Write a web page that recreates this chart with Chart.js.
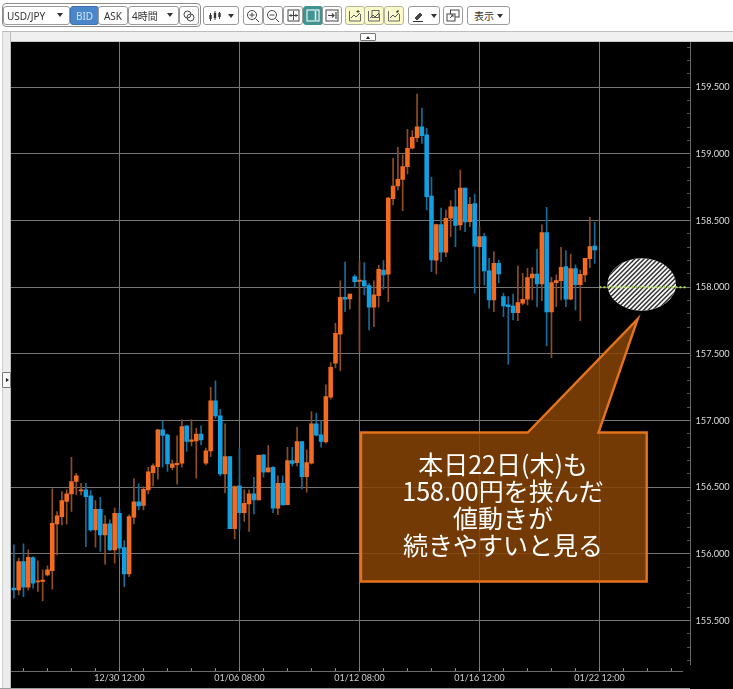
<!DOCTYPE html>
<html lang="ja"><head><meta charset="utf-8">
<script src="https://cdn.jsdelivr.net/npm/chart.js@4"></script>
<style>
html,body{margin:0;padding:0;background:#fff;overflow:hidden;width:733px;height:689px;font-family:"Noto Sans","Noto Sans CJK JP",sans-serif}
#stage{position:absolute;left:0;top:0;width:733px;height:689px}
.a{position:absolute;box-sizing:border-box}
.b{position:absolute;box-sizing:border-box;top:6px;height:19px;background:#fff;border:1px solid #9a9a9a;border-radius:3px;font-size:10px;color:#333;display:flex;align-items:center;justify-content:center;line-height:1}
.b svg{display:block}
.tri{width:0;height:0;display:inline-block;border-left:3px solid transparent;border-right:3px solid transparent;border-top:4px solid #333}
canvas{position:absolute;left:0;top:0}
</style></head><body><div id="stage">
<div class="a" style="left:11px;top:42px;width:722px;height:647px;background:#000"></div>
<div class="a" style="left:2px;top:31px;width:731px;height:11px;background:#f0f0f0;border-top:1px solid #bdbdbd;border-bottom:1px solid #c8c8c8"></div>
<div class="a" style="left:2px;top:32px;width:9px;height:657px;background:#ececec;border-left:1px solid #d0d0d0;border-right:1px solid #bbb"></div>
<div class="a" style="left:360px;top:33px;width:16px;height:8px;background:#fff;border:1px solid #777;border-radius:1px"><div style="position:absolute;left:5px;top:1.5px;width:0;height:0;border-left:2.5px solid transparent;border-right:2.5px solid transparent;border-bottom:3px solid #222"></div></div>
<div class="a" style="left:2px;top:372px;width:9px;height:16px;background:#f6f6f6;border:1px solid #777;border-radius:1px"><div style="position:absolute;left:2.5px;top:4.5px;width:0;height:0;border-top:2.5px solid transparent;border-bottom:2.5px solid transparent;border-left:3px solid #222"></div></div>
<canvas id="chart" width="733" height="689"></canvas>
<div class="a" style="left:2px;top:3px;width:199px;height:24px;border:1px solid #8c8c8c;border-radius:4px"></div>
<div id="toolbar"></div>
</div>
<script>
// Candle values (USD/JPY, 4-hour bars)
const opens=[155.743,155.73,155.943,155.75,155.973,155.79,155.793,155.843,155.875,156.225,156.28,156.393,156.45,156.543,156.473,156.48,156.435,156.18,156.335,156.143,156.225,156.03,156.305,156.048,155.85,156.275,156.39,156.363,156.48,156.61,156.655,156.93,156.893,156.648,156.67,156.68,156.96,156.843,156.848,156.898,156.68,156.773,157.148,157.035,156.6,156.73,156.19,156.51,156.31,156.375,156.45,156.405,156.743,156.615,156.65,156.343,156.53,156.37,156.7,156.685,156.843,156.58,156.68,156.975,156.893,156.84,157.175,157.43,157.648,157.925,157.913,158.08,158.045,158.05,158.013,157.85,157.938,158.13,158.098,158.665,158.76,158.81,158.905,159.043,159.123,159.203,159.143,158.685,158.203,158.47,158.263,158.518,158.603,158.468,158.745,158.493,158.628,158.305,158.38,158.123,157.905,158.18,157.93,157.868,157.86,157.81,157.88,157.91,158.07,158.1,158.025,158.41,157.815,158.035,158.05,158.155,157.91,158.14,158.02,158.093,158.215,158.31];
const highs=[156.068,155.968,156.075,156.03,155.98,155.948,155.88,155.91,156.488,156.318,156.468,156.48,156.725,156.605,156.53,156.53,156.475,156.4,156.425,156.288,156.255,156.343,156.335,156.1,156.293,156.565,156.525,156.505,156.65,156.675,156.935,156.998,156.9,156.705,156.885,157.005,156.96,157.005,156.943,156.96,156.793,157.25,157.298,157.085,156.975,156.73,156.51,156.793,156.48,156.48,156.575,156.743,156.743,156.815,156.655,156.585,156.585,156.8,156.8,156.95,156.843,156.78,157.068,157.055,156.998,157.268,157.435,157.73,158.048,158.19,157.95,158.093,158.2,158.185,158.03,158.048,158.165,158.2,158.675,158.968,159.05,158.993,159.185,159.175,159.45,159.345,159.193,158.825,158.475,158.595,158.58,158.65,158.73,158.88,158.745,158.675,158.7,158.455,158.405,158.218,158.268,158.205,157.955,157.93,157.95,158.16,158.105,158.143,158.15,158.285,158.468,158.6,158.075,158.093,158.3,158.275,158.25,158.168,158.13,158.218,158.525,158.488];
const lows=[155.668,155.693,155.68,155.73,155.743,155.718,155.648,155.835,155.735,155.993,156.218,156.225,156.318,156.443,156.443,156.055,156.168,156.05,156.018,155.923,156.025,155.93,155.98,155.755,155.83,156.225,156.33,156.33,156.45,156.51,156.56,156.65,156.618,156.63,156.523,156.65,156.768,156.81,156.568,156.818,156.668,156.73,157.018,156.585,156.46,156.19,156.113,156.18,156.243,156.168,156.3,156.405,156.575,156.613,156.31,156.295,156.368,156.368,156.66,156.66,156.488,156.463,156.673,156.885,156.8,156.83,157.16,157.395,157.375,157.818,157.835,158,157.518,157.943,157.68,157.705,157.85,157.985,157.893,158.618,158.73,158.575,158.85,159.038,159.093,159.08,158.58,158.118,158.1,158.193,158.23,158.38,158.305,158.43,158.418,158.455,157.955,158.018,158.018,157.843,157.818,158.035,157.78,157.423,157.755,157.75,157.868,157.868,157.905,157.855,157.9,157.56,157.473,157.855,157.905,157.855,157.905,157.83,157.75,158.043,158.148,158.18];
const closes=[155.73,155.943,155.75,155.975,155.78,155.798,155.803,155.88,156.23,156.285,156.4,156.45,156.543,156.585,156.48,156.43,156.18,156.335,156.143,156.223,156.03,156.305,156.043,155.85,156.28,156.39,156.36,156.485,156.615,156.66,156.93,156.888,156.675,156.675,156.68,156.955,156.843,156.855,156.898,156.855,156.773,157.148,157.035,156.6,156.73,156.19,156.505,156.31,156.38,156.45,156.405,156.74,156.613,156.645,156.343,156.53,156.368,156.7,156.678,156.843,156.58,156.685,156.975,156.89,156.843,157.18,157.4,157.655,157.925,157.91,157.95,158.043,158.055,158.01,157.85,157.943,158.135,158.093,158.67,158.76,158.81,158.905,159.043,159.125,159.203,159.138,158.68,158.205,158.47,158.263,158.518,158.603,158.465,158.745,158.49,158.623,158.308,158.38,158.123,157.905,158.18,158.1,157.86,157.855,157.81,157.885,157.91,158.073,158.1,158.025,158.41,157.815,158.035,158.05,158.15,157.91,158.14,158.02,158.098,158.218,158.305,158.28];
const tickIndexes=[22,47,72,97,122];
const tickLabels=['12/30 12:00','01/06 08:00','01/12 08:00','01/16 12:00','01/22 12:00'];
const guideLevel=158;
const calloutLines=['本日22日(木)も','158.00円を挟んだ','値動きが','続きやすいと見る'];

const UP='#f26b21',DOWN='#12a0e2',UP_WICK='#8f4d22',DOWN_WICK='#176c98',GRID='#767676';
const idx=closes.map((_,i)=>i);
const isUp=i=>closes[i]>=opens[i];
const FIRST=-0.6,LAST=140.13;

const annotations={
 id:'annotations',
 beforeDatasetsDraw(c){
  const g=c.ctx;g.save();
  g.beginPath();g.ellipse(641.7,284.5,34.3,26.2,0,0,Math.PI*2);g.fillStyle='#fff';g.fill();g.clip();
  g.strokeStyle='#333';g.lineWidth=1.5;
  for(let x=560;x<740;x+=4.6){g.beginPath();g.moveTo(x,320);g.lineTo(x+70,250);g.stroke();}
  g.restore();
 },
 afterDatasetsDraw(c){
  const g=c.ctx;g.save();
  g.strokeStyle='#6a6a6a';g.lineWidth=1;
  g.beginPath();g.moveTo(11,671.5);g.lineTo(683,671.5);g.moveTo(690.5,42);g.lineTo(690.5,665);g.stroke();
  g.strokeStyle='#9a9a9a';g.beginPath();g.moveTo(0,688.5);g.lineTo(690,688.5);g.stroke();
  g.beginPath();g.moveTo(361,432.5);g.lineTo(527.7,432.5);g.lineTo(637.7,319);g.lineTo(598.5,432.5);g.lineTo(646.7,432.5);g.lineTo(646.7,581.5);g.lineTo(361,581.5);g.closePath();
  g.fillStyle='rgba(136,68,7,0.85)';g.fill();
  g.strokeStyle='#e4731c';g.lineWidth=2.4;g.lineJoin='miter';g.stroke();
  g.fillStyle='#fff';g.font='25px "Noto Sans CJK JP"';g.textAlign='center';g.textBaseline='middle';
  calloutLines.forEach((t,i)=>g.fillText(t,503,464.5+i*27));
  g.restore();
 }
};

new Chart(document.getElementById('chart'),{
 type:'bar',
 data:{datasets:[
  {label:'wick',data:idx.map(i=>({x:i,y:[lows[i],highs[i]]})),barThickness:1,
   backgroundColor:idx.map(i=>isUp(i)?UP_WICK:DOWN_WICK),order:3},
  {label:'body',data:idx.map(i=>({x:i,y:[opens[i],closes[i]]})),barThickness:3.9,
   backgroundColor:idx.map(i=>isUp(i)?UP:DOWN),order:2},
  {type:'line',label:'guide',data:[{x:tickIndexes[4],y:guideLevel},{x:LAST,y:guideLevel}],
   borderColor:'#b0dc50',borderWidth:2,borderDash:[2,2],pointRadius:0,order:1}
 ]},
 options:{
  responsive:false,animation:false,grouped:false,
  layout:{padding:{left:11,top:42,right:0,bottom:0}},
  plugins:{legend:{display:false},tooltip:{enabled:false}},
  scales:{
   x:{type:'linear',offset:false,min:FIRST,max:LAST,
    afterBuildTicks(s){const t=[];for(let i=2;i<=137;i+=5)t.push({value:i});s.ticks=t;},
    afterFit(s){s.height=21.5;s.paddingLeft=0;s.paddingRight=0;},
    border:{display:false},
    grid:{offset:false,color:c=>tickIndexes.includes(c.tick&&c.tick.value)?GRID:'rgba(0,0,0,0)',tickColor:'#8a8a8a',tickLength:4,drawTicks:true},
    ticks:{autoSkip:false,maxRotation:0,padding:1,color:'#cfcfcf',font:{family:'Lato',size:9},
     callback:v=>{const k=tickIndexes.indexOf(v);return k<0?'':tickLabels[k];}}},
   y:{type:'linear',position:'right',min:155.148,max:159.84,
    afterBuildTicks(s){const t=[];for(let k=1552;k<=1598;k++)t.push({value:k/10});s.ticks=t;},
    afterFit(s){s.width=46.5;s.paddingTop=0;s.paddingBottom=0;},
    border:{display:false},
    grid:{color:c=>c.tick&&Math.round(c.tick.value*10)%5===0?GRID:'rgba(0,0,0,0)',tickColor:c=>c.tick&&Math.round(c.tick.value*10)%5===0?GRID:'#555',tickLength:4},
    ticks:{autoSkip:false,padding:5,color:'#dcdcdc',font:{family:'Lato',size:9.2},
     callback:v=>Math.round(v*10)%5===0?v.toFixed(3):''}}
  }
 },
 plugins:[annotations]
});

const s=(w,h,d)=>`<svg width="${w}" height="${h}" viewBox="0 0 ${w} ${h}" fill="none" stroke="#444" stroke-width="1">${d}</svg>`;
const tri=`<span class="tri"></span>`;
const mag=m=>s(14,14,`<circle cx="6" cy="6" r="4.5"/><path d="M9.5 9.5L13 13M3.5 6h5${m}"/>`);
const chartIco=x=>s(14,13,`<path d="M1.5 2v10h11V5" stroke="#666"/><path d="M3 9l3-3 2 2 4-4" stroke="#555"/>${x}`);
const ico={
 overlay:s(12,12,`<circle cx="4.5" cy="4.5" r="3.5"/><circle cx="7.5" cy="7.5" r="3.5"/>`),
 candles:`<span style="display:flex;align-items:center;gap:6px">`+s(14,12,`<path d="M2.5 3v8M7 1v9M11.5 2v7" stroke="#333"/><path d="M2.5 5v4M7 3v5M11.5 3v4" stroke="#333" stroke-width="2.4"/>`)+tri+`</span>`,
 fit:s(13,13,`<rect x="1" y="1" width="11" height="11"/><path d="M6.5 2v9M2 6.5h9M3 6.5l1.5-1.5M3 6.5l1.5 1.5M10 6.5L8.5 5M10 6.5L8.5 8"/>`),
 panel:s(14,13,`<rect x="1" y="1" width="12" height="11" stroke="#e8f4f4" stroke-width="1.2"/><path d="M9.5 2v9" stroke="#e8f4f4" stroke-width="1.6"/>`),
 end:s(14,13,`<rect x="1" y="1" width="12" height="11"/><path d="M3 6.5h6M7 4.5l2 2-2 2M11 3v7" stroke-width="1.2"/>`),
 pen:`<span style="display:flex;align-items:center;gap:6px">`+s(13,12,`<path d="M3 8l5-5 2 2-5 5z" fill="#444"/><path d="M1 11.5h10" stroke="#333"/>`)+tri+`</span>`,
 win:s(14,13,`<rect x="4.5" y="1" width="8.5" height="7"/><rect x="1" y="5" width="8" height="7" fill="#fff"/><path d="M4 9l3-3M5 6h2v2"/>`)
};
const buttons=[
 [3,67,`<span style="position:absolute;left:3px">USD/JPY</span><span style="position:absolute;right:6px;top:6px;display:flex">${tri}</span>`],
 [70,29,`BID`,'background:#4a86c9;color:#cfe2f6;border-color:#3f74b0'],
 [98,30,`ASK`],
 [128,51,`<span style="position:absolute;left:3px">4時間</span><span style="position:absolute;right:5px;top:6px;display:flex">${tri}</span>`],
 [179,20,ico.overlay],
 [203,36,ico.candles],
 [243,20,mag('M6 3.5v5')],[263,20,mag('')],[283,20,ico.fit],[303,20,ico.panel,'background:#3f9391;border-color:#3f9391'],[322,20,ico.end],
 [345,20,chartIco('<path d="M10 1v3M8.5 2.5h3" stroke="#444"/>'),'background:#fbfbc9;border-color:#b5b5a0'],
 [364,20,chartIco('<rect x="5" y="1.5" width="7" height="7" stroke="#666"/>'),'background:#fbfbc9;border-color:#b5b5a0'],
 [384,20,chartIco('<path d="M9.5 3.5l2-2" stroke="#333" stroke-width="1.6"/>'),'background:#fbfbc9;border-color:#b5b5a0'],
 [408,32,ico.pen],[443,20,ico.win],
 [467,43,`<span style="font-size:10px">表示</span><span style="margin-left:3px;display:flex">${tri}</span>`]
];
document.getElementById('toolbar').innerHTML=buttons.map(([x,w,h,st])=>`<div class="b" style="left:${x}px;width:${w}px;${st||''}">${h}</div>`).join('');
</script></body></html>
